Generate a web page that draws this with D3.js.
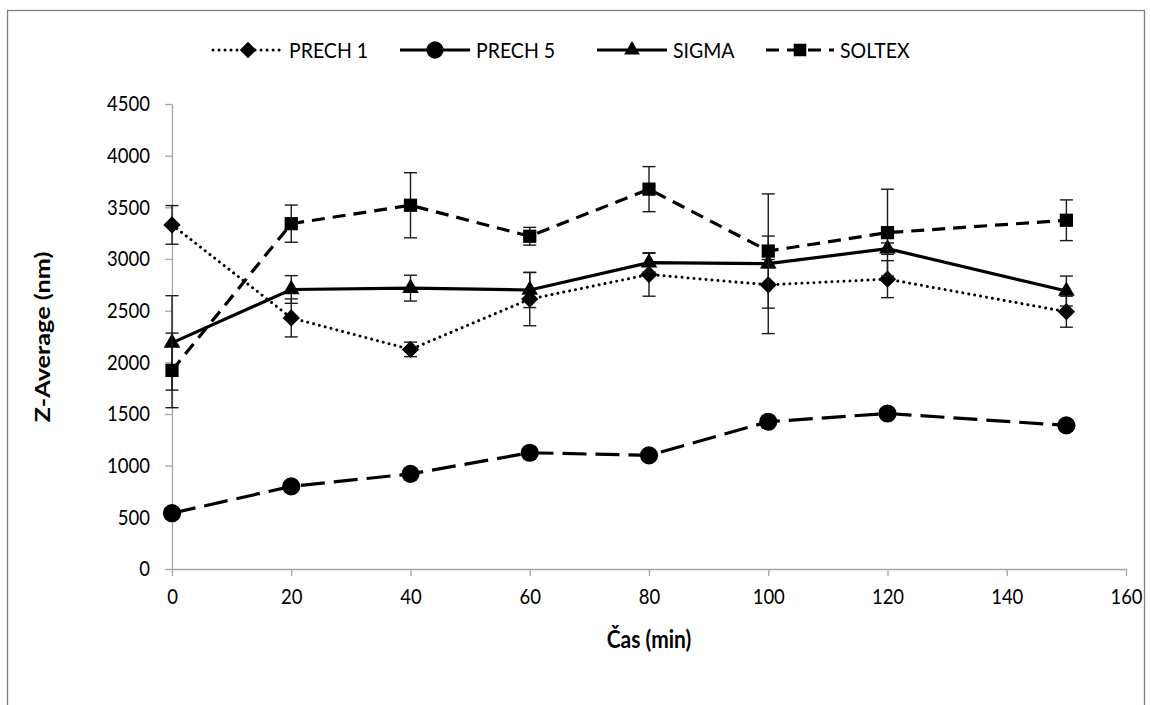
<!DOCTYPE html>
<html><head><meta charset="utf-8">
<script src="https://cdn.jsdelivr.net/npm/d3@7"></script>
<style>body{margin:0;background:#fff} text{font-family:Lato, "Open Sans", sans-serif}</style>
</head><body><svg id="c" width="1150" height="705"></svg>
<script>
// ---- data ----
const times = [0, 20, 40, 60, 80, 100, 120, 150];
const prech1 = [3330, 2430, 2125, 2612, 2850, 2750, 2805, 2490];
const prech1Err = [187, 184, 70, 258, 210, 472, 179, 150];
const prech5 = [540, 800, 920, 1125, 1100, 1425, 1505, 1390];
const sigma = [2188, 2705, 2718, 2700, 2965, 2955, 3100, 2690];
const sigmaErr = [457, 134, 125, 170, 90, 40, 55, 145];
const soltex = [1922, 3342, 3520, 3220, 3676, 3077, 3255, 3375];
const soltexErr = [361, 180, 315, 86, 218, 553, 420, 197];
const seriesNames = ["PRECH 1", "PRECH 5", "SIGMA", "SOLTEX"];
const xTicks = [0, 20, 40, 60, 80, 100, 120, 140, 160];
const yTicks = [0, 500, 1000, 1500, 2000, 2500, 3000, 3500, 4000, 4500];
const xTitle = "Čas (min)";
const yTitle = "Z-Average (nm)";

// ---- layout ----
const svg = d3.select("#c");
const x = d3.scaleLinear().domain([0, 160]).range([172, 1126]);
const y = d3.scaleLinear().domain([0, 4500]).range([569, 104]);
const SY = 1.15; // vertical stretch of glyphs, as in the reference

function stretch(sel, sy) {
  sel.each(function () {
    const t = d3.select(this);
    const tx = +t.attr("x") || 0, ty = +t.attr("y") || 0;
    t.attr("x", 0).attr("y", 0).attr("transform", `translate(${tx},${ty}) scale(1,${sy})`);
  });
}

svg.append("rect").attr("x", 7.5).attr("y", 10.5).attr("width", 1137).attr("height", 720)
  .attr("fill", "#fff").attr("stroke", "#7f7f7f").attr("stroke-width", 1.3);

const axisColor = "#a6a6a6";
const gy = svg.append("g").attr("transform", "translate(172,0)")
  .call(d3.axisLeft(y).tickValues(yTicks).tickSize(7).tickSizeOuter(0).tickPadding(15).tickFormat(d3.format("d")));
const gx = svg.append("g").attr("transform", "translate(0,569)")
  .call(d3.axisBottom(x).tickValues(xTicks).tickSize(7).tickSizeOuter(0).tickPadding(13).tickFormat(d3.format("d")));
[gx, gy].forEach(g => {
  g.select(".domain").attr("stroke", axisColor).attr("stroke-width", 1.3);
  g.selectAll(".tick line").attr("stroke", axisColor).attr("stroke-width", 1.3);
  const tt = g.selectAll(".tick text").attr("fill", "#000").style("font-size", "18.5px").style("font-family", "Lato");
  stretch(tt, SY);
});

const xt = svg.append("text").attr("x", 649).attr("y", 648).attr("text-anchor", "middle")
  .style("font-size", "21px").style("font-weight", "bold").text(xTitle);
stretch(xt, SY);
svg.append("text").attr("transform", "translate(50,337) rotate(-90) scale(1.2,1)").attr("text-anchor", "middle")
  .style("font-size", "21px").style("font-weight", "bold").text(yTitle);

const diamond = { draw(ctx, size) { const r = Math.sqrt(size) / 2 * Math.SQRT2; ctx.moveTo(0, -r); ctx.lineTo(r, 0); ctx.lineTo(0, r); ctx.lineTo(-r, 0); ctx.closePath(); } };
const series = [
  { name: seriesNames[0], vals: prech1, err: prech1Err, dash: "0.01,6", cap: "round", width: 3, sym: diamond, size: 150 },
  { name: seriesNames[1], vals: prech5, err: null, dash: "24,9", cap: "butt", width: 3.2, sym: d3.symbolCircle, size: 260 },
  { name: seriesNames[2], vals: sigma, err: sigmaErr, dash: null, cap: "butt", width: 3.2, sym: d3.symbolTriangle, size: 120 },
  { name: seriesNames[3], vals: soltex, err: soltexErr, dash: "13,8", cap: "butt", width: 3.2, sym: d3.symbolSquare, size: 175 }
];

const line = d3.line().x(d => x(d.t)).y(d => y(d.v));
const plot = svg.append("g");
series.forEach(s => {
  const pts = times.map((t, i) => ({ t, v: s.vals[i], e: s.err ? s.err[i] : 0 }));
  const g = plot.append("g");
  g.append("path").datum(pts).attr("d", line).attr("fill", "none").attr("stroke", "#000")
    .attr("stroke-width", s.width).attr("stroke-dasharray", s.dash).attr("stroke-linecap", s.cap);
  if (s.err) {
    const eb = g.selectAll(".eb").data(pts).join("g");
    eb.append("line").attr("x1", d => x(d.t)).attr("x2", d => x(d.t)).attr("y1", d => y(d.v + d.e)).attr("y2", d => y(d.v - d.e));
    eb.append("line").attr("x1", d => x(d.t) - 6.5).attr("x2", d => x(d.t) + 6.5).attr("y1", d => y(d.v + d.e)).attr("y2", d => y(d.v + d.e));
    eb.append("line").attr("x1", d => x(d.t) - 6.5).attr("x2", d => x(d.t) + 6.5).attr("y1", d => y(d.v - d.e)).attr("y2", d => y(d.v - d.e));
    eb.selectAll("line").attr("stroke", "#1a1a1a").attr("stroke-width", 1.4);
  }
  g.selectAll(".m").data(pts).join("path")
    .attr("transform", d => `translate(${x(d.t)},${y(d.v)})`)
    .attr("d", d3.symbol().type(s.sym).size(s.size)).attr("fill", "#000");
});

// legend
const legX = [213, 400, 597, 766];
const legW = [70, 70, 70, 68];
const leg = svg.append("g");
series.forEach((s, i) => {
  const lx = legX[i], ly = 50;
  leg.append("line").attr("x1", lx).attr("x2", lx + legW[i]).attr("y1", ly).attr("y2", ly)
    .attr("stroke", "#000").attr("stroke-width", s.width)
    .attr("stroke-dasharray", s.dash ? (i === 1 ? null : s.dash) : null).attr("stroke-linecap", s.cap);
  leg.append("path").attr("transform", `translate(${lx + legW[i] / 2},${ly})`)
    .attr("d", d3.symbol().type(s.sym).size(s.size * 0.9)).attr("fill", "#000");
  const lt = leg.append("text").attr("x", lx + legW[i] + 6).attr("y", ly).attr("dy", "0.36em")
    .style("font-size", "19.5px").text(s.name);
  stretch(lt, 1.12);
});
</script></body></html>
